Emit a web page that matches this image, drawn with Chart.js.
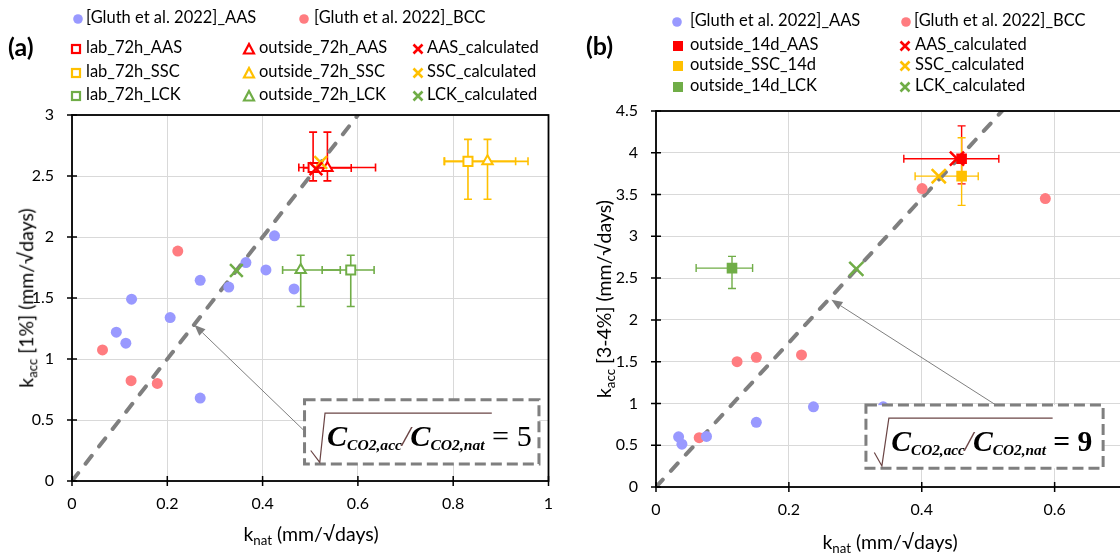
<!DOCTYPE html>
<html>
<head>
<meta charset="utf-8">
<script src="https://cdn.jsdelivr.net/npm/chart.js@4.4.0/dist/chart.umd.min.js"></script>
<style>
  html, body { margin: 0; padding: 0; background: #fff; overflow: hidden; width: 1120px; height: 556px; }
  body { position: relative; font-family: Lato, sans-serif; color: #000; }
  .panel { position: absolute; top: 0; height: 556px; }
  #pa { left: 0; width: 560px; }
  #pb { left: 560px; width: 640px; }
  canvas { display: block; }
  .lg { position: absolute; font-size: 16.5px; line-height: 1; white-space: nowrap; transform: translateY(-50%); }
  .mk { position: absolute; width: 14px; height: 14px; transform: translate(-50%, -50%); }
  .plab { position: absolute; font-weight: bold; font-size: 25px; line-height: 1; transform: translateY(-50%); }
  .ttl { position: absolute; font-size: 19.5px; line-height: 1; white-space: nowrap; transform: translate(-50%, -50%); }
  .ttl.rot { transform: translate(-50%, -50%) rotate(-90deg); }
  sub { font-size: 0.68em; vertical-align: -0.3em; line-height: 0; }
</style>
</head>
<body>
<div class="panel" id="pa"><canvas id="chartA" width="560" height="556" style="width:560px;height:556px"></canvas></div>
<div class="panel" id="pb"><canvas id="chartB" width="640" height="556" style="width:640px;height:556px"></canvas></div>
<div id="overlay"></div>
<script>
// ---- data, panel (a) ----
const mixes = ['AAS', 'SSC', 'LCK'];

const gluthAasAX = [0.093, 0.113, 0.125, 0.206, 0.269, 0.269, 0.329, 0.365, 0.407, 0.425, 0.466];
const gluthAasAY = [1.22, 1.13, 1.49, 1.34, 1.645, 0.68, 1.59, 1.79, 1.73, 2.01, 1.574];
const gluthBccAX = [0.064, 0.124, 0.179, 0.222];
const gluthBccAY = [1.074, 0.822, 0.80, 1.885];

const lab72X = [0.506, 0.831, 0.585];
const lab72Y = [2.57, 2.62, 1.73];
const lab72Xm = [0.030, 0.05, 0.06];
const lab72Xp = [0.131, 0.10, 0.049];
const lab72Ym = [0.11, 0.31, 0.30];
const lab72Yp = [0.29, 0.18, 0.12];

const out72X = [0.536, 0.872, 0.48];
const out72Y = [2.565, 2.62, 1.73];
const out72Xm = [0.05, 0.09, 0.038];
const out72Xp = [0.05, 0.085, 0.083];
const out72Ym = [0.105, 0.31, 0.30];
const out72Yp = [0.295, 0.18, 0.12];

const calcAX = [0.512, 0.522, 0.345];
const calcAY = [2.56, 2.61, 1.725];

const lineAX = [0, 0.6];
const lineAY = [0, 3];

// ---- data, panel (b) ----
const gluthAasBX = [0.034, 0.039, 0.076, 0.151, 0.237, 0.342];
const gluthAasBY = [0.60, 0.512, 0.605, 0.774, 0.96, 0.96];
const gluthBccBX = [0.065, 0.122, 0.151, 0.219, 0.4005, 0.586];
const gluthBccBY = [0.59, 1.50, 1.552, 1.58, 3.572, 3.452];

const out14X = [0.46, 0.46, 0.1144];
const out14Y = [3.928, 3.72, 2.62];
const out14Xm = [0.087, 0.07, 0.054];
const out14Xp = [0.056, 0.025, 0.031];
const out14Ym = [0.3, 0.35, 0.244];
const out14Yp = [0.394, 0.46, 0.14];

const calcBX = [0.453, 0.4256, 0.3015];
const calcBY = [3.93, 3.72, 2.61];

const lineBX = [0, 0.521];
const lineBY = [0, 4.5];

// ---- styles ----
const RED = '#ff0000', YEL = '#ffc000', GRN = '#70ad47';
const BLUE = '#9999ff', SALMON = '#ff7c80', GREY = '#7f7f7f';
const mixColors = [RED, YEL, GRN];

Chart.defaults.font.family = 'Lato, sans-serif';
Chart.defaults.font.size = 15.5;
Chart.defaults.color = '#000';
Chart.defaults.animation = false;

const pts = (xs, ys) => xs.map((v, i) => ({ x: v, y: ys[i] }));

// error bars under the markers
const errorBars = {
  id: 'errorBars',
  beforeDatasetsDraw(chart) {
    const { ctx, scales: { x, y } } = chart;
    chart.data.datasets.forEach(ds => {
      if (!ds.err) return;
      const e = ds.err, p = ds.data[0], c = 4;
      const px = x.getPixelForValue(p.x), py = y.getPixelForValue(p.y);
      const x1 = x.getPixelForValue(p.x - e.xm), x2 = x.getPixelForValue(p.x + e.xp);
      const y1 = y.getPixelForValue(p.y - e.ym), y2 = y.getPixelForValue(p.y + e.yp);
      ctx.save();
      ctx.strokeStyle = e.color;
      ctx.lineWidth = e.width;
      ctx.beginPath();
      ctx.moveTo(x1, py); ctx.lineTo(x2, py);
      ctx.moveTo(x1, py - c); ctx.lineTo(x1, py + c);
      ctx.moveTo(x2, py - c); ctx.lineTo(x2, py + c);
      ctx.moveTo(px, y1); ctx.lineTo(px, y2);
      ctx.moveTo(px - c, y1); ctx.lineTo(px + c, y1);
      ctx.moveTo(px - c, y2); ctx.lineTo(px + c, y2);
      ctx.stroke();
      ctx.restore();
    });
  }
};

// arrow + dashed box + formula
const note = {
  id: 'note',
  afterDatasetsDraw(chart, args, o) {
    const { ctx, scales: { x, y } } = chart;
    const X = v => x.getPixelForValue(v), Y = v => y.getPixelForValue(v);
    ctx.save();
    // arrow
    const ax1 = X(o.arrowFrom[0]), ay1 = Y(o.arrowFrom[1]);
    const ax2 = X(o.arrowTo[0]), ay2 = Y(o.arrowTo[1]);
    const ang = Math.atan2(ay2 - ay1, ax2 - ax1), hl = 11, hw = 4.5;
    const bx = ax2 - hl * Math.cos(ang), by = ay2 - hl * Math.sin(ang);
    ctx.strokeStyle = GREY; ctx.fillStyle = GREY; ctx.lineWidth = 1;
    ctx.beginPath(); ctx.moveTo(ax1, ay1); ctx.lineTo(bx, by); ctx.stroke();
    ctx.beginPath();
    ctx.moveTo(ax2, ay2);
    ctx.lineTo(bx + hw * Math.sin(ang), by - hw * Math.cos(ang));
    ctx.lineTo(bx - hw * Math.sin(ang), by + hw * Math.cos(ang));
    ctx.closePath(); ctx.fill();
    // box
    const [b1, b2, b3, b4] = o.box;
    ctx.fillStyle = '#fff';
    ctx.fillRect(X(b1), Y(b4), X(b2) - X(b1), Y(b3) - Y(b4));
    ctx.setLineDash([11, 5]); ctx.lineWidth = 3; ctx.strokeStyle = GREY;
    ctx.strokeRect(X(b1), Y(b4), X(b2) - X(b1), Y(b3) - Y(b4));
    ctx.setLineDash([]);
    // radical
    const r = o.rad;
    ctx.strokeStyle = '#6b4545'; ctx.lineWidth = 1.2;
    ctx.beginPath();
    ctx.moveTo(X(r.x0), Y(r.y0));
    ctx.lineTo(X(r.xd), Y(r.yd));
    ctx.lineTo(X(r.xt), Y(r.yt));
    ctx.lineTo(X(r.end), Y(r.yt));
    ctx.stroke();
    // formula text
    const f = o.text;
    const pieces = [
      { t: 'C', big: true, st: 'bold italic' },
      { t: 'CO2,acc', big: false, st: 'bold italic' },
      { t: '/', big: true, st: 'italic', col: '#6b4545' },
      { t: 'C', big: true, st: 'bold italic' },
      { t: 'CO2,nat', big: false, st: 'bold italic' },
      { t: f.last, big: true, st: f.lastBold ? 'bold' : 'normal' }
    ];
    const font = (p, s) => `${p.st} ${(p.big ? 30 : 15.5) * s}px "Liberation Serif"`;
    let w = 0;
    pieces.forEach(p => { ctx.font = font(p, 1); w += ctx.measureText(p.t).width; });
    const s = (X(f.x2) - X(f.x1)) / w;
    let cx = X(f.x1);
    const base = Y(f.base);
    ctx.textBaseline = 'alphabetic';
    pieces.forEach(p => {
      ctx.font = font(p, s);
      ctx.fillStyle = p.col || '#000';
      ctx.fillText(p.t, cx, p.big ? base : base + 4 * s);
      cx += ctx.measureText(p.t).width;
    });
    ctx.restore();
  }
};

// black frame and ticks crossing the axes
const frame = {
  id: 'frame',
  afterDraw(chart) {
    const { ctx, chartArea: a, scales: { x, y } } = chart;
    ctx.save();
    ctx.strokeStyle = '#000'; ctx.lineWidth = 1.8;
    ctx.strokeRect(a.left, a.top, a.right - a.left, a.bottom - a.top);
    ctx.lineWidth = 1.5;
    ctx.beginPath();
    x.ticks.forEach((t, i) => { const p = x.getPixelForTick(i); ctx.moveTo(p, a.bottom - 5); ctx.lineTo(p, a.bottom + 5); });
    y.ticks.forEach((t, i) => { const p = y.getPixelForTick(i); ctx.moveTo(a.left - 5, p); ctx.lineTo(a.left + 5, p); });
    ctx.stroke();
    ctx.restore();
  }
};

function buildDatasets(p) {
  const ds = [];
  ds.push({ data: pts(p.lineX, p.lineY), showLine: true, borderColor: GREY, borderWidth: 4,
    borderDash: [10, 12], borderCapStyle: 'round', pointRadius: 0, order: 10 });
  ds.push({ data: pts(p.aasX, p.aasY), pointStyle: 'circle', pointRadius: 5.5,
    backgroundColor: BLUE, borderWidth: 0, order: 5 });
  ds.push({ data: pts(p.bccX, p.bccY), pointStyle: 'circle', pointRadius: 5.5,
    backgroundColor: SALMON, borderWidth: 0, order: 5 });
  p.series.forEach(se => {
    mixes.forEach((m, i) => {
      ds.push({
        label: se.name(m),
        data: [{ x: se.x[i], y: se.y[i] }],
        pointStyle: se.style, pointRadius: se.radius,
        backgroundColor: se.filled ? mixColors[i] : '#fff',
        borderColor: mixColors[i], borderWidth: se.filled ? 0 : 2, order: 3,
        err: { xm: se.xm[i], xp: se.xp[i], ym: se.ym[i], yp: se.yp[i], color: mixColors[i], width: se.errWidth }
      });
    });
  });
  mixes.forEach((m, i) => {
    ds.push({ label: m + '_calculated', data: [{ x: p.calcX[i], y: p.calcY[i] }],
      pointStyle: 'crossRot', pointRadius: p.crossR, borderColor: mixColors[i],
      backgroundColor: mixColors[i], borderWidth: 2.5, order: 1 });
  });
  return ds;
}

function axis(max, step, size, isX) {
  return {
    type: 'linear', min: 0, max: max,
    ticks: { stepSize: step, padding: isX ? 13 : 18, color: '#000', font: { size: 16 },
      callback: v => String(Number(v.toFixed(2))) },
    grid: { color: '#d9d9d9', lineWidth: 1, drawTicks: false },
    border: { display: false },
    afterFit(s) {
      if (isX) { s.height = size; s.paddingLeft = 0; s.paddingRight = 0; }
      else { s.width = size; s.paddingTop = 0; s.paddingBottom = 0; }
    }
  };
}

function makeChart(id, p) {
  const ch = new Chart(document.getElementById(id), {
    type: 'scatter',
    data: { datasets: buildDatasets(p) },
    options: {
      responsive: false,
      devicePixelRatio: 1,
      layout: { padding: Object.assign({}, p.padding) },
      scales: { x: axis(p.xMax, 0.2, p.xH, true), y: axis(p.yMax, 0.5, p.yW, false) },
      plugins: { legend: { display: false }, tooltip: { enabled: false }, note: p.note }
    },
    plugins: [errorBars, note, frame]
  });
  // nudge the right padding so the plot ends where the reference plot does
  const extra = p.rightEdge - ch.chartArea.right;
  if (Math.abs(extra) > 0.5) {
    ch.options.layout.padding.right = Math.max(0, p.padding.right - extra);
    ch.update();
  }
  return ch;
}

makeChart('chartA', {
  lineX: lineAX, lineY: lineAY, aasX: gluthAasAX, aasY: gluthAasAY, bccX: gluthBccAX, bccY: gluthBccAY,
  calcX: calcAX, calcY: calcAY, crossR: 9,
  series: [
    { name: m => 'lab_72h_' + m, x: lab72X, y: lab72Y, xm: lab72Xm, xp: lab72Xp, ym: lab72Ym, yp: lab72Yp,
      style: 'rect', radius: 6.4, filled: false, errWidth: 1.6 },
    { name: m => 'outside_72h_' + m, x: out72X, y: out72Y, xm: out72Xm, xp: out72Xp, ym: out72Ym, yp: out72Yp,
      style: 'triangle', radius: 6, filled: false, errWidth: 1.6 }
  ],
  xMax: 1, yMax: 3, xH: 75, yW: 72, rightEdge: 550,
  padding: { left: 0, right: 10, top: 115, bottom: 0 },
  note: {
    box: [0.488, 0.98, 0.139, 0.667],
    arrowFrom: [0.486, 0.417], arrowTo: [0.257, 1.279],
    rad: { x0: 0.501, y0: 0.25, xd: 0.52, yd: 0.153, xt: 0.531, yt: 0.556, end: 0.881 },
    text: { x1: 0.535, x2: 0.965, base: 0.29, last: ' = 5', lastBold: false }
  }
});

makeChart('chartB', {
  lineX: lineBX, lineY: lineBY, aasX: gluthAasBX, aasY: gluthAasBY, bccX: gluthBccBX, bccY: gluthBccBY,
  calcX: calcBX, calcY: calcBY, crossR: 10,
  series: [
    { name: m => 'outside_14d_' + m, x: out14X, y: out14Y, xm: out14Xm, xp: out14Xp, ym: out14Ym, yp: out14Yp,
      style: 'rect', radius: 7.5, filled: true, errWidth: 1.4 }
  ],
  xMax: 0.8, yMax: 4.5, xH: 69, yW: 96, rightEdge: 633,
  padding: { left: 0, right: 7, top: 111, bottom: 0 },
  note: {
    box: [0.316, 0.673, 0.224, 0.98],
    arrowFrom: [0.515, 0.964], arrowTo: [0.264, 2.24],
    rad: { x0: 0.3286, y0: 0.412, xd: 0.340, yd: 0.252, xt: 0.3505, yt: 0.824, end: 0.597 },
    text: { x1: 0.354, x2: 0.657, base: 0.432, last: ' = 9', lastBold: true }
  }
});

// ---- legends and titles (html text) ----
function marker(kind, c) {
  let inner = '';
  if (kind === 'circle') inner = `<circle cx="7" cy="7" r="4.8" fill="${c}"/>`;
  if (kind === 'sqo') inner = `<rect x="3" y="3" width="8" height="8" fill="#fff" stroke="${c}" stroke-width="2.2"/>`;
  if (kind === 'sqf') inner = `<rect x="2" y="2" width="10" height="10" fill="${c}"/>`;
  if (kind === 'tri') inner = `<polygon points="7,2 12,11.5 2,11.5" fill="#fff" stroke="${c}" stroke-width="2.2"/>`;
  if (kind === 'x') inner = `<path d="M2.5 2.5 L11.5 11.5 M11.5 2.5 L2.5 11.5" stroke="${c}" stroke-width="2.6"/>`;
  return `<svg viewBox="0 0 14 14" width="14" height="14">${inner}</svg>`;
}

const legendItems = [
  ['circle', BLUE, 78, 17, 86, '[Gluth et al. 2022]_AAS'],
  ['circle', SALMON, 304, 17, 314, '[Gluth et al. 2022]_BCC'],
  ['circle', BLUE, 677, 20, 690, '[Gluth et al. 2022]_AAS'],
  ['circle', SALMON, 906, 20, 914, '[Gluth et al. 2022]_BCC']
];
const rowsA = [46.5, 70.5, 94];
const rowsB = [43.7, 64, 84.5];
mixes.forEach((m, i) => {
  const c = mixColors[i];
  legendItems.push(['sqo', c, 76, rowsA[i], 86, 'lab_72h_' + m]);
  legendItems.push(['tri', c, 249, rowsA[i], 259, 'outside_72h_' + m]);
  legendItems.push(['x', c, 418, rowsA[i], 427, m + '_calculated']);
  legendItems.push(['sqf', c, 678, rowsB[i], 690, m === 'SSC' ? 'outside_SSC_14d' : 'outside_14d_' + m]);
  legendItems.push(['x', c, 905, rowsB[i], 915, m + '_calculated']);
});

let html = '';
legendItems.forEach(([k, c, mx, my, tx, t]) => {
  html += `<div class="mk" style="left:${mx}px;top:${my}px">${marker(k, c)}</div>`;
  html += `<div class="lg" style="left:${tx}px;top:${my}px">${t}</div>`;
});
html += `<div class="plab" style="left:8px;top:46px">(a)</div>`;
html += `<div class="plab" style="left:586px;top:45px">(b)</div>`;
html += `<div class="ttl rot" style="left:26px;top:298px">k<sub>acc</sub> [1%] (mm/√days)</div>`;
html += `<div class="ttl" style="left:311px;top:534px">k<sub>nat</sub> (mm/√days)</div>`;
html += `<div class="ttl rot" style="left:604px;top:299px">k<sub>acc</sub> [3-4%] (mm/√days)</div>`;
html += `<div class="ttl" style="left:890px;top:542px">k<sub>nat</sub> (mm/√days)</div>`;
document.getElementById('overlay').innerHTML = html;
</script>
</body>
</html>
